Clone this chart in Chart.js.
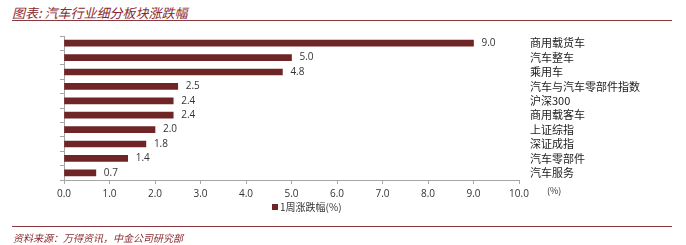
<!DOCTYPE html>
<html>
<head>
<meta charset="utf-8">
<script src="https://cdn.jsdelivr.net/npm/chart.js@4"></script>
<style>
  body { margin: 0; background: #fff; }
  #wrap { position: relative; width: 686px; height: 245px; overflow: hidden; font-family: "Noto Sans CJK SC", sans-serif; }
  #chart { position: absolute; left: 0; top: 0; }
  .title { position: absolute; left: 12px; top: 3px; font-size: 13px; font-style: italic; color: #8a2a2e; white-space: nowrap; }
  .rule { position: absolute; left: 12px; width: 660px; height: 1px; background: #8a3a3e; }
  .src { position: absolute; left: 13px; top: 230px; font-size: 10px; font-style: italic; color: #8a2a2e; white-space: nowrap; }
  .unit { position: absolute; left: 547px; top: 184px; font-size: 9px; color: #333; }
  .legend { position: absolute; left: 272px; top: 199px; font-size: 10px; color: #333; white-space: nowrap; }
  .legend i { display: inline-block; width: 6px; height: 6px; background: #6f2426; margin-right: 2px; vertical-align: 1px; }
</style>
</head>
<body>
<div id="wrap">
  <div class="title">图表: 汽车行业细分板块涨跌幅</div>
  <div class="rule" style="top:20px"></div>
  <canvas id="chart" width="686" height="245"></canvas>
  <div class="unit">(%)</div>
  <div class="legend"><i></i>1周涨跌幅(%)</div>
  <div class="rule" style="top:226px"></div>
  <div class="src">资料来源：万得资讯，中金公司研究部</div>
</div>
<script>
const categories = ["商用载货车", "汽车整车", "乘用车", "汽车与汽车零部件指数", "沪深300",
  "商用载客车", "上证综指", "深证成指", "汽车零部件", "汽车服务"];
const weekChange = [9.0, 5.0, 4.8, 2.5, 2.4, 2.4, 2.0, 1.8, 1.4, 0.7];
const xTicks = [0, 1, 2, 3, 4, 5, 6, 7, 8, 9, 10];

const barColor = "#6f2426";
const axisColor = "#a6a6a6";

// value labels at the end of each bar
const valueLabels = {
  id: "valueLabels",
  afterDatasetsDraw(chart) {
    const ctx = chart.ctx;
    const meta = chart.getDatasetMeta(0);
    ctx.save();
    ctx.font = "10px 'Open Sans', sans-serif";
    ctx.fillStyle = "#333";
    ctx.textBaseline = "middle";
    meta.data.forEach((bar, i) => {
      ctx.fillText(weekChange[i].toFixed(1), bar.x + 8, bar.y);
    });
    ctx.restore();
  }
};

new Chart(document.getElementById("chart"), {
  type: "bar",
  data: {
    labels: categories,
    datasets: [{
      label: "1周涨跌幅(%)",
      data: weekChange,
      backgroundColor: barColor,
      barThickness: 6,
      yAxisID: "y"
    }]
  },
  plugins: [valueLabels],
  options: {
    indexAxis: "y",
    responsive: false,
    animation: false,
    layout: { padding: { top: 36, left: 0, right: 0, bottom: 0 } },
    plugins: {
      legend: { display: false },
      tooltip: { enabled: false }
    },
    scales: {
      x: {
        min: 0,
        max: 10,
        afterBuildTicks: (s) => { s.ticks = xTicks.map(v => ({ value: v })); },
        afterFit: (s) => { s.height = 65; },
        border: { color: axisColor },
        grid: { drawOnChartArea: false, tickLength: 4, color: axisColor },
        ticks: {
          callback: (v) => Number(v).toFixed(1),
          color: "#333",
          padding: 4,
          maxRotation: 0,
          font: { size: 10, family: "'Open Sans', sans-serif" }
        }
      },
      y: {
        position: "left",
        afterFit: (s) => { s.width = 64; },
        border: { color: axisColor },
        grid: { drawOnChartArea: false, tickLength: 4, color: axisColor, offset: true },
        ticks: { display: false }
      },
      y2: {
        type: "category",
        position: "right",
        offset: true,
        afterFit: (s) => { s.width = 167; },
        border: { display: false },
        grid: { display: false, drawTicks: false },
        ticks: {
          autoSkip: false,
          color: "#222",
          padding: 11,
          font: { size: 11, family: "'Noto Sans CJK SC', sans-serif" }
        }
      }
    }
  }
});
</script>
</body>
</html>
